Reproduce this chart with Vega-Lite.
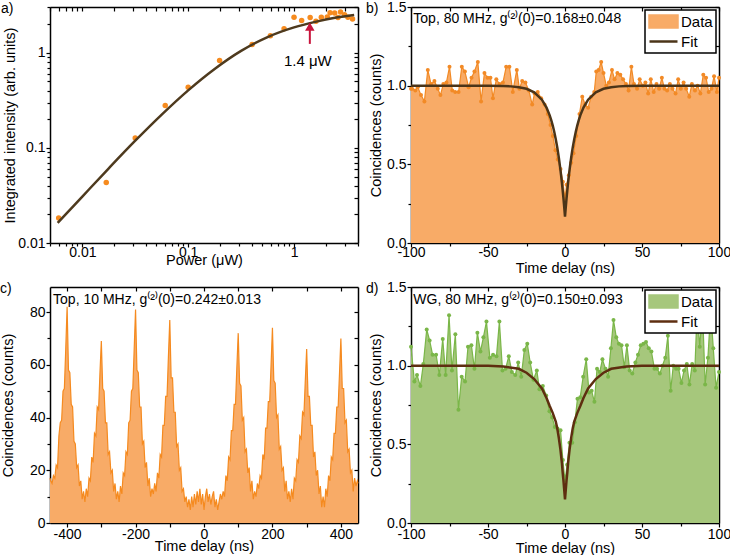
{
"$schema": "https://vega.github.io/schema/vega-lite/v6.json",
"padding": {"left": 0, "top": 0, "right": 0, "bottom": 0},
"config": {
 "font": "Liberation Sans",
 "view": {"stroke": null},
 "axis": {"grid": false, "domainColor": "black", "domainWidth": 1.5, "tickColor": "black", "tickWidth": 1.2, "labelColor": "black", "titleColor": "black", "labelFontSize": 14, "titleFontSize": 14.5, "titleFontWeight": "normal", "labelPadding": 1, "tickSize": 4, "labelFlush": false, "labelOverlap": false, "zindex": 1},
 "axisBottom": {"labelPadding": 0},
 "title": {"fontSize": 14, "fontWeight": "normal", "color": "black", "anchor": "start", "frame": "group", "baseline": "bottom"}
},
"datasets": {
 "a": [{"p":0.00598,"i":0.0183},{"p":0.01683,"i":0.0432},{"p":0.0316,"i":0.127},{"p":0.0607,"i":0.279},{"p":0.1,"i":0.435},{"p":0.198,"i":0.83},{"p":0.402,"i":1.22},{"p":0.598,"i":1.51},{"p":0.805,"i":1.79},{"p":1.0,"i":2.37},{"p":1.18,"i":2.19},{"p":1.42,"i":2.35},{"p":1.61,"i":2.15},{"p":1.81,"i":2.37},{"p":2.06,"i":2.38},{"p":2.19,"i":2.64},{"p":2.42,"i":2.62},{"p":2.6,"i":2.35},{"p":2.75,"i":2.68},{"p":3.0,"i":2.51},{"p":3.23,"i":2.37},{"p":3.57,"i":2.26}],
 "afit": [{"p":0.00585,"i":0.01626},{"p":0.01,"i":0.0308},{"p":0.01778,"i":0.061},{"p":0.03162,"i":0.1189},{"p":0.05623,"i":0.2239},{"p":0.1,"i":0.4027},{"p":0.1778,"i":0.676},{"p":0.3162,"i":1.047},{"p":0.5623,"i":1.462},{"p":1.0,"i":1.849},{"p":1.585,"i":2.113},{"p":2.512,"i":2.344},{"p":3.698,"i":2.5}],
 "b": [{"t":-100,"v":0.98},{"t":-99.3,"v":0.98},{"t":-97.2,"v":0.97},{"t":-95.6,"v":0.99},{"t":-93.5,"v":0.94},{"t":-91.3,"v":0.9},{"t":-89.1,"v":1.1},{"t":-87,"v":1.01},{"t":-84.8,"v":1.03},{"t":-82.6,"v":0.98},{"t":-80.9,"v":0.94},{"t":-79,"v":1.01},{"t":-77,"v":1.02},{"t":-75,"v":1.12},{"t":-73.2,"v":0.97},{"t":-71.3,"v":0.96},{"t":-69.1,"v":0.96},{"t":-67,"v":1.12},{"t":-65,"v":1.09},{"t":-62.6,"v":0.99},{"t":-60.7,"v":1.05},{"t":-58.8,"v":1.09},{"t":-56.6,"v":1.15},{"t":-54.5,"v":0.9},{"t":-52.3,"v":1.08},{"t":-50.3,"v":1.05},{"t":-48.4,"v":1.05},{"t":-46.8,"v":0.92},{"t":-44.6,"v":1.04},{"t":-42.5,"v":1.01},{"t":-40.3,"v":1.02},{"t":-38.2,"v":1.12},{"t":-36.1,"v":1.12},{"t":-33.9,"v":0.96},{"t":-31.3,"v":1.1},{"t":-29.6,"v":0.98},{"t":-27.8,"v":1.03},{"t":-25.7,"v":1.02},{"t":-23.5,"v":0.97},{"t":-21.3,"v":0.88},{"t":-19.8,"v":0.95},{"t":-17.7,"v":0.96},{"t":-15.5,"v":0.92},{"t":-13.3,"v":0.88},{"t":-11.2,"v":0.82},{"t":-9.4,"v":0.75},{"t":-7.9,"v":0.68},{"t":-6.2,"v":0.59},{"t":-4.7,"v":0.53},{"t":-2.9,"v":0.47},{"t":-1.4,"v":0.39},{"t":0,"v":0.28},{"t":1,"v":0.37},{"t":2.5,"v":0.43},{"t":4,"v":0.51},{"t":5.5,"v":0.57},{"t":7.3,"v":0.68},{"t":9.4,"v":0.82},{"t":11.2,"v":0.93},{"t":13.1,"v":0.88},{"t":15,"v":0.86},{"t":17,"v":0.93},{"t":19,"v":0.96},{"t":20.3,"v":1.09},{"t":21.8,"v":1.1},{"t":23.5,"v":1.15},{"t":25,"v":1.08},{"t":26.8,"v":1.0},{"t":28.5,"v":1.02},{"t":30.5,"v":1.1},{"t":32.2,"v":1.04},{"t":34,"v":1.08},{"t":35.9,"v":1.07},{"t":37.7,"v":1.04},{"t":39.6,"v":1.01},{"t":41.3,"v":0.97},{"t":43.1,"v":1.12},{"t":44.8,"v":1.01},{"t":46.8,"v":0.98},{"t":48.5,"v":1.04},{"t":50.5,"v":1.0},{"t":52.2,"v":1.02},{"t":54,"v":0.95},{"t":55.7,"v":1.04},{"t":57.6,"v":0.96},{"t":59.4,"v":1.01},{"t":61.1,"v":0.98},{"t":62.9,"v":1.05},{"t":64.6,"v":0.98},{"t":66.3,"v":0.97},{"t":68.1,"v":1.01},{"t":69.8,"v":0.98},{"t":71.8,"v":0.95},{"t":73.5,"v":1.04},{"t":75.2,"v":0.98},{"t":77,"v":1.02},{"t":78.7,"v":0.98},{"t":80.7,"v":0.93},{"t":82.4,"v":1.01},{"t":84.4,"v":0.97},{"t":86.1,"v":1.0},{"t":87.9,"v":0.95},{"t":89.8,"v":1.07},{"t":91.6,"v":1.05},{"t":93.3,"v":0.96},{"t":95.1,"v":0.98},{"t":96.8,"v":1.06},{"t":98.6,"v":0.96},{"t":100,"v":1.05}],
 "bfit": [{"t":-100,"v":1},{"t":-70,"v":1},{"t":-60,"v":0.9999},{"t":-50,"v":0.9995},{"t":-40,"v":0.998},{"t":-35,"v":0.9955},{"t":-30,"v":0.9905},{"t":-25,"v":0.98},{"t":-20,"v":0.958},{"t":-15,"v":0.911},{"t":-12,"v":0.861},{"t":-10,"v":0.813},{"t":-9,"v":0.783},{"t":-8,"v":0.748},{"t":-7,"v":0.707},{"t":-6,"v":0.66},{"t":-5,"v":0.606},{"t":-4,"v":0.542},{"t":-3,"v":0.468},{"t":-2.5,"v":0.427},{"t":-2,"v":0.383},{"t":-1.5,"v":0.335},{"t":-1,"v":0.283},{"t":-0.5,"v":0.228},{"t":0,"v":0.168},{"t":0.5,"v":0.228},{"t":1,"v":0.283},{"t":1.5,"v":0.335},{"t":2,"v":0.383},{"t":2.5,"v":0.427},{"t":3,"v":0.468},{"t":4,"v":0.542},{"t":5,"v":0.606},{"t":6,"v":0.66},{"t":7,"v":0.707},{"t":8,"v":0.748},{"t":9,"v":0.783},{"t":10,"v":0.813},{"t":12,"v":0.861},{"t":15,"v":0.911},{"t":20,"v":0.958},{"t":25,"v":0.98},{"t":30,"v":0.9905},{"t":35,"v":0.9955},{"t":40,"v":0.998},{"t":50,"v":0.9995},{"t":60,"v":0.9999},{"t":70,"v":1},{"t":100,"v":1}],
 "c": [{"t":-450,"v":17},{"t":-448,"v":16},{"t":-444,"v":15},{"t":-440,"v":18},{"t":-436,"v":17},{"t":-432,"v":22},{"t":-428,"v":21},{"t":-424,"v":33},{"t":-420,"v":38},{"t":-416,"v":39},{"t":-412,"v":50},{"t":-408,"v":51},{"t":-404,"v":66},{"t":-400,"v":82},{"t":-396,"v":58},{"t":-392,"v":57},{"t":-388,"v":45},{"t":-384,"v":44},{"t":-380,"v":31},{"t":-376,"v":30},{"t":-372,"v":21},{"t":-368,"v":22},{"t":-364,"v":14},{"t":-360,"v":16},{"t":-356,"v":9},{"t":-352,"v":12},{"t":-348,"v":8},{"t":-344,"v":13},{"t":-340,"v":10},{"t":-336,"v":17},{"t":-332,"v":16},{"t":-328,"v":25},{"t":-324,"v":23},{"t":-320,"v":34},{"t":-316,"v":33},{"t":-312,"v":44},{"t":-308,"v":43},{"t":-304,"v":57},{"t":-300,"v":69},{"t":-296,"v":51},{"t":-292,"v":50},{"t":-288,"v":38},{"t":-284,"v":38},{"t":-280,"v":26},{"t":-276,"v":27},{"t":-272,"v":19},{"t":-268,"v":20},{"t":-264,"v":12},{"t":-260,"v":15},{"t":-256,"v":9},{"t":-252,"v":12},{"t":-248,"v":8},{"t":-244,"v":14},{"t":-240,"v":11},{"t":-236,"v":19},{"t":-232,"v":18},{"t":-228,"v":27},{"t":-224,"v":26},{"t":-220,"v":38},{"t":-216,"v":39},{"t":-212,"v":50},{"t":-208,"v":51},{"t":-204,"v":66},{"t":-200,"v":81},{"t":-196,"v":58},{"t":-192,"v":57},{"t":-188,"v":44},{"t":-184,"v":44},{"t":-180,"v":30},{"t":-176,"v":31},{"t":-172,"v":21},{"t":-168,"v":23},{"t":-164,"v":14},{"t":-160,"v":17},{"t":-156,"v":10},{"t":-152,"v":13},{"t":-148,"v":11},{"t":-144,"v":15},{"t":-140,"v":12},{"t":-136,"v":19},{"t":-132,"v":17},{"t":-128,"v":26},{"t":-124,"v":25},{"t":-120,"v":37},{"t":-116,"v":37},{"t":-112,"v":48},{"t":-108,"v":48},{"t":-104,"v":63},{"t":-100,"v":77},{"t":-96,"v":55},{"t":-92,"v":55},{"t":-88,"v":42},{"t":-84,"v":42},{"t":-80,"v":29},{"t":-76,"v":30},{"t":-72,"v":20},{"t":-68,"v":21},{"t":-64,"v":12},{"t":-60,"v":13},{"t":-56,"v":8},{"t":-52,"v":10},{"t":-48,"v":6},{"t":-44,"v":9},{"t":-40,"v":5},{"t":-36,"v":10},{"t":-32,"v":6},{"t":-28,"v":11},{"t":-24,"v":7},{"t":-20,"v":12},{"t":-16,"v":8},{"t":-12,"v":13},{"t":-8,"v":7},{"t":-4,"v":11},{"t":0,"v":5},{"t":4,"v":10},{"t":8,"v":13},{"t":12,"v":8},{"t":16,"v":11},{"t":20,"v":7},{"t":24,"v":10},{"t":28,"v":12},{"t":32,"v":6},{"t":36,"v":9},{"t":40,"v":5},{"t":44,"v":8},{"t":48,"v":11},{"t":52,"v":9},{"t":56,"v":12},{"t":60,"v":10},{"t":64,"v":18},{"t":68,"v":16},{"t":72,"v":25},{"t":76,"v":24},{"t":80,"v":35},{"t":84,"v":35},{"t":88,"v":45},{"t":92,"v":45},{"t":96,"v":59},{"t":100,"v":72},{"t":104,"v":53},{"t":108,"v":52},{"t":112,"v":39},{"t":116,"v":40},{"t":120,"v":27},{"t":124,"v":28},{"t":128,"v":19},{"t":132,"v":21},{"t":136,"v":12},{"t":140,"v":16},{"t":144,"v":9},{"t":148,"v":12},{"t":152,"v":10},{"t":156,"v":15},{"t":160,"v":13},{"t":164,"v":18},{"t":168,"v":17},{"t":172,"v":26},{"t":176,"v":24},{"t":180,"v":36},{"t":184,"v":36},{"t":188,"v":46},{"t":192,"v":46},{"t":196,"v":60},{"t":200,"v":74},{"t":204,"v":54},{"t":208,"v":53},{"t":212,"v":40},{"t":216,"v":41},{"t":220,"v":28},{"t":224,"v":29},{"t":228,"v":20},{"t":232,"v":21},{"t":236,"v":12},{"t":240,"v":16},{"t":244,"v":9},{"t":248,"v":12},{"t":252,"v":8},{"t":256,"v":13},{"t":260,"v":9},{"t":264,"v":17},{"t":268,"v":16},{"t":272,"v":24},{"t":276,"v":23},{"t":280,"v":33},{"t":284,"v":32},{"t":288,"v":42},{"t":292,"v":41},{"t":296,"v":54},{"t":300,"v":66},{"t":304,"v":48},{"t":308,"v":48},{"t":312,"v":37},{"t":316,"v":37},{"t":320,"v":25},{"t":324,"v":27},{"t":328,"v":18},{"t":332,"v":20},{"t":336,"v":11},{"t":340,"v":14},{"t":344,"v":6},{"t":348,"v":10},{"t":352,"v":6},{"t":356,"v":13},{"t":360,"v":10},{"t":364,"v":18},{"t":368,"v":16},{"t":372,"v":25},{"t":376,"v":24},{"t":380,"v":34},{"t":384,"v":34},{"t":388,"v":44},{"t":392,"v":44},{"t":396,"v":57},{"t":400,"v":70},{"t":404,"v":51},{"t":408,"v":51},{"t":412,"v":38},{"t":416,"v":39},{"t":420,"v":27},{"t":424,"v":28},{"t":428,"v":19},{"t":432,"v":20},{"t":436,"v":12},{"t":440,"v":17},{"t":444,"v":14},{"t":448,"v":16},{"t":450,"v":15}],
 "d": [{"t":-100,"v":1.12},{"t":-97.8,"v":0.9},{"t":-96.1,"v":0.94},{"t":-93.9,"v":0.87},{"t":-92,"v":1.01},{"t":-89.8,"v":1.23},{"t":-87.9,"v":1.16},{"t":-86,"v":1.07},{"t":-83.7,"v":1.07},{"t":-81.6,"v":0.94},{"t":-79.4,"v":1.17},{"t":-77.5,"v":0.94},{"t":-75.3,"v":1.32},{"t":-73.4,"v":0.97},{"t":-71.2,"v":1.2},{"t":-69.2,"v":0.72},{"t":-67.1,"v":0.93},{"t":-64.9,"v":0.9},{"t":-63,"v":1.12},{"t":-60.8,"v":1.13},{"t":-58.8,"v":0.98},{"t":-56.9,"v":1.21},{"t":-54.9,"v":1.09},{"t":-53,"v":1.18},{"t":-51,"v":1.28},{"t":-48.8,"v":1.05},{"t":-46.7,"v":1.07},{"t":-44.5,"v":1.06},{"t":-42.6,"v":1.28},{"t":-40.6,"v":0.97},{"t":-38.6,"v":0.98},{"t":-36.5,"v":1.06},{"t":-34.5,"v":0.96},{"t":-32.3,"v":0.94},{"t":-30.4,"v":1.02},{"t":-28.4,"v":0.93},{"t":-26.4,"v":1.1},{"t":-24.5,"v":1.14},{"t":-22.6,"v":1.02},{"t":-20.5,"v":0.91},{"t":-18.3,"v":0.97},{"t":-16.6,"v":0.85},{"t":-14.4,"v":0.87},{"t":-12.2,"v":0.81},{"t":-10.1,"v":0.71},{"t":-8.3,"v":0.67},{"t":-6.6,"v":0.61},{"t":-4.9,"v":0.6},{"t":-2.9,"v":0.59},{"t":-1.4,"v":0.4},{"t":0,"v":0.27},{"t":1.4,"v":0.37},{"t":2.9,"v":0.51},{"t":4.7,"v":0.51},{"t":6.4,"v":0.64},{"t":8.1,"v":0.79},{"t":9.9,"v":0.8},{"t":11.8,"v":0.93},{"t":13.8,"v":1.04},{"t":15.6,"v":0.83},{"t":17.3,"v":0.84},{"t":19.1,"v":0.77},{"t":20.8,"v":0.98},{"t":22.6,"v":0.96},{"t":24.3,"v":1.04},{"t":26.3,"v":0.98},{"t":28,"v":0.93},{"t":29.8,"v":1.11},{"t":31.5,"v":1.29},{"t":33.3,"v":1.18},{"t":35,"v":1.14},{"t":36.7,"v":1.13},{"t":38.5,"v":0.99},{"t":40.2,"v":1.13},{"t":42,"v":0.97},{"t":43.7,"v":0.95},{"t":45.7,"v":1.02},{"t":47.4,"v":1.07},{"t":49.2,"v":1.13},{"t":50.9,"v":1.14},{"t":52.6,"v":1.15},{"t":54.4,"v":1.11},{"t":56.1,"v":1.09},{"t":58.1,"v":0.98},{"t":59.8,"v":0.98},{"t":61.6,"v":0.95},{"t":63.3,"v":1.0},{"t":65.1,"v":1.05},{"t":66.8,"v":1.19},{"t":68.6,"v":0.84},{"t":70.3,"v":1.0},{"t":72.1,"v":0.98},{"t":73.8,"v":0.98},{"t":75.6,"v":0.89},{"t":77.3,"v":0.97},{"t":79.1,"v":1.01},{"t":80.8,"v":0.88},{"t":82.6,"v":1.01},{"t":84.3,"v":0.97},{"t":85.8,"v":1.35},{"t":87.5,"v":1.12},{"t":89.3,"v":1.36},{"t":91,"v":0.88},{"t":92.8,"v":1.05},{"t":94.6,"v":1.35},{"t":96.3,"v":1.11},{"t":98.1,"v":0.86},{"t":100,"v":0.96}],
 "dfit": [{"t":-100,"v":1},{"t":-70,"v":1},{"t":-50,"v":0.9995},{"t":-40,"v":0.995},{"t":-30,"v":0.98},{"t":-25,"v":0.955},{"t":-20,"v":0.915},{"t":-15,"v":0.855},{"t":-12,"v":0.795},{"t":-10,"v":0.745},{"t":-8,"v":0.7},{"t":-6,"v":0.645},{"t":-5,"v":0.6},{"t":-4,"v":0.54},{"t":-3,"v":0.47},{"t":-2,"v":0.38},{"t":-1.5,"v":0.32},{"t":-1,"v":0.27},{"t":-0.5,"v":0.21},{"t":0,"v":0.15},{"t":0.5,"v":0.21},{"t":1,"v":0.27},{"t":1.5,"v":0.32},{"t":2,"v":0.38},{"t":3,"v":0.47},{"t":4,"v":0.54},{"t":5,"v":0.6},{"t":6,"v":0.645},{"t":8,"v":0.7},{"t":10,"v":0.745},{"t":12,"v":0.795},{"t":15,"v":0.855},{"t":20,"v":0.915},{"t":25,"v":0.955},{"t":30,"v":0.98},{"t":40,"v":0.995},{"t":50,"v":0.9995},{"t":70,"v":1},{"t":100,"v":1}]
},
"columns": 2,
"spacing": {"row": 44, "column": 53},
"bounds": "flush",
"resolve": {"scale": {"x": "independent", "y": "independent", "color": "independent"}, "legend": {"color": "independent"}},
"concat": [
 {
  "width": 308, "height": 236,
  "title": {"text": "a)", "offset": -10, "dx": -49},
  "layer": [
   {"data": {"name": "a"}, "mark": {"type": "circle", "size": 30, "color": "#F68B1F", "opacity": 1},
    "encoding": {
     "x": {"field": "p", "type": "quantitative", "scale": {"type": "log", "domain": [0.00495, 4.02], "nice": false}, "axis": {"orient": "bottom", "values": [0.01, 0.1, 1], "format": "~g", "labelPadding": -2, "title": "Power (μW)", "titleY": 10.5}},
     "y": {"field": "i", "type": "quantitative", "scale": {"type": "log", "domain": [0.01, 3.03], "nice": false}, "axis": {"orient": "left", "values": [0.01, 0.1, 1], "format": "~g", "title": "Integrated intensity (arb. units)", "titleX": -33, "titleBaseline": "bottom"}}}},
   {"data": {"name": "afit"}, "mark": {"type": "line", "color": "#4E3A1E", "strokeWidth": 2.5, "interpolate": "monotone"},
    "encoding": {
     "x": {"field": "p", "type": "quantitative", "axis": {"orient": "bottom", "values": [0.005,0.006,0.007,0.008,0.009,0.02,0.03,0.04,0.05,0.06,0.07,0.08,0.09,0.2,0.3,0.4,0.5,0.6,0.7,0.8,0.9,2,3,4], "labels": false, "domain": false, "tickSize": 3, "title": null}},
     "y": {"field": "i", "type": "quantitative", "axis": {"orient": "left", "values": [0.02,0.03,0.04,0.05,0.06,0.07,0.08,0.09,0.2,0.3,0.4,0.5,0.6,0.7,0.8,0.9,2,3], "labels": false, "domain": false, "tickSize": 3, "title": null}}}},
   {"data": {"name": "afit"}, "mark": {"type": "point", "opacity": 0},
    "encoding": {
     "x": {"field": "p", "type": "quantitative", "axis": {"orient": "top", "values": [0.005,0.006,0.007,0.008,0.009,0.01,0.02,0.03,0.04,0.05,0.06,0.07,0.08,0.09,0.1,0.2,0.3,0.4,0.5,0.6,0.7,0.8,0.9,1,2,3,4], "labels": false, "tickSize": -4, "title": null}},
     "y": {"field": "i", "type": "quantitative", "axis": {"orient": "right", "values": [0.01,0.02,0.03,0.04,0.05,0.06,0.07,0.08,0.09,0.1,0.2,0.3,0.4,0.5,0.6,0.7,0.8,0.9,1,2,3], "labels": false, "tickSize": -4, "title": null}}}},
   {"data": {"values": [{"label": "1.4 μW"}]}, "mark": {"type": "rule", "color": "#C8143C", "strokeWidth": 2},
    "encoding": {"x": {"datum": 1.41, "type": "quantitative", "axis": null}, "y": {"datum": 1.24, "type": "quantitative", "axis": null}, "y2": {"datum": 1.75}}},
   {"data": {"values": [{"label": "1.4 μW"}]}, "mark": {"type": "point", "shape": "triangle-up", "filled": true, "size": 90, "color": "#C8143C", "opacity": 1},
    "encoding": {"x": {"datum": 1.41, "type": "quantitative", "axis": null}, "y": {"datum": 1.88, "type": "quantitative", "axis": null}}},
   {"data": {"values": [{"label": "1.4 μW"}]}, "mark": {"type": "text", "fontSize": 15, "align": "center", "baseline": "middle", "color": "black"},
    "encoding": {"x": {"datum": 1.35, "type": "quantitative", "axis": null}, "y": {"datum": 0.82, "type": "quantitative", "axis": null}, "text": {"field": "label"}}}
  ],
  "resolve": {"axis": {"x": "independent", "y": "independent"}}
 },
 {
  "width": 308, "height": 236,
  "title": {"text": "b)", "offset": -16, "dx": -45},
  "layer": [
   {"data": {"name": "b"}, "mark": {"type": "area", "opacity": 1},
    "encoding": {
     "x": {"field": "t", "type": "quantitative", "scale": {"domain": [-100, 100], "nice": false}, "axis": {"orient": "bottom", "values": [-100, -50, 0, 50, 100], "labelExpr": "'' + datum.value", "labelPadding": -2, "title": "Time delay (ns)", "titleY": 18}},
     "y": {"field": "v", "type": "quantitative", "scale": {"domain": [0, 1.5], "nice": false}, "axis": {"orient": "left", "values": [0, 0.5, 1, 1.5], "format": ".1f", "title": "Coincidences (counts)", "titleX": -28, "titleBaseline": "bottom"}},
     "color": {"datum": "Data", "type": "nominal", "scale": {"domain": ["Data", "Fit"], "range": ["#F8AB67", "#4B3418"]},
      "legend": {"title": null, "orient": "top-right", "offset": 3, "padding": 3, "strokeColor": "black", "fillColor": "white", "labelFontSize": 15, "labelColor": "black", "symbolSize": 196, "labelOffset": 16, "rowPadding": -1,
       "encoding": {"symbols": {"shape": {"condition": {"test": "datum.value === 'Fit'", "value": "M-1,0H3"}, "value": "M-1,-0.85H3V0.85H-1Z"}, "fill": {"condition": {"test": "datum.value === 'Fit'", "value": "transparent"}, "value": "#F8AB67"}, "stroke": {"condition": {"test": "datum.value === 'Fit'", "value": "#4B3418"}, "value": "transparent"}, "strokeWidth": {"value": 2.5}, "opacity": {"value": 1}, "fillOpacity": {"value": 1}}, "legend": {"strokeWidth": {"value": 1.5}}}}}}},
   {"data": {"name": "b"}, "mark": {"type": "line", "color": "#F28A26", "strokeWidth": 1.2, "point": {"filled": true, "size": 16, "color": "#F28A26", "opacity": 1}},
    "encoding": {"x": {"field": "t", "type": "quantitative", "axis": null}, "y": {"field": "v", "type": "quantitative", "axis": null}}},
   {"data": {"name": "bfit"}, "mark": {"type": "line", "strokeWidth": 2.5},
    "encoding": {
     "x": {"field": "t", "type": "quantitative", "axis": {"orient": "bottom", "values": [-75, -25, 25, 75], "labels": false, "domain": false, "tickSize": 3, "title": null}},
     "y": {"field": "v", "type": "quantitative", "axis": {"orient": "left", "values": [0.25, 0.75, 1.25], "labels": false, "domain": false, "tickSize": 3, "title": null}},
     "color": {"datum": "Fit", "type": "nominal"}}},
   {"data": {"name": "bfit"}, "mark": {"type": "point", "opacity": 0},
    "encoding": {
     "x": {"field": "t", "type": "quantitative", "axis": {"orient": "top", "values": [-100, -75, -50, -25, 0, 25, 50, 75, 100], "labels": false, "tickSize": -4, "title": null}},
     "y": {"field": "v", "type": "quantitative", "axis": {"orient": "right", "values": [0, 0.25, 0.5, 0.75, 1, 1.25, 1.5], "labels": false, "tickSize": -4, "title": null}}}},
   {"data": {"values": [{"label": "Top, 80 MHz, g⁽²⁾(0)=0.168±0.048"}]}, "mark": {"type": "text", "fontSize": 14, "align": "left", "baseline": "alphabetic", "color": "black"},
    "encoding": {"x": {"datum": -98.5, "type": "quantitative", "axis": null}, "y": {"datum": 1.4, "type": "quantitative", "axis": null}, "text": {"field": "label"}}}
  ],
  "resolve": {"axis": {"x": "independent", "y": "independent"}}
 },
 {
  "width": 308, "height": 236,
  "title": {"text": "c)", "offset": -10, "dx": -50},
  "layer": [
   {"data": {"name": "c"}, "mark": {"type": "area", "opacity": 1, "color": "#F8AB67"},
    "encoding": {
     "x": {"field": "t", "type": "quantitative", "scale": {"domain": [-450, 450], "nice": false}, "axis": {"orient": "bottom", "values": [-400, -200, 0, 200, 400], "labelExpr": "'' + datum.value", "title": "Time delay (ns)", "titleY": 16}},
     "y": {"field": "v", "type": "quantitative", "scale": {"domain": [0, 89.5], "nice": false}, "axis": {"orient": "left", "values": [0, 20, 40, 60, 80], "title": "Coincidences (counts)", "titleX": -35, "titleBaseline": "bottom"}}}},
   {"data": {"name": "c"}, "mark": {"type": "line", "color": "#F58A1F", "strokeWidth": 1.2},
    "encoding": {
     "x": {"field": "t", "type": "quantitative", "axis": {"orient": "bottom", "values": [-300, -100, 100, 300], "labels": false, "domain": false, "tickSize": 4, "title": null}},
     "y": {"field": "v", "type": "quantitative", "axis": {"orient": "left", "values": [10, 30, 50, 70], "labels": false, "domain": false, "tickSize": 3, "title": null}}}},
   {"data": {"name": "c"}, "mark": {"type": "point", "opacity": 0},
    "encoding": {
     "x": {"field": "t", "type": "quantitative", "axis": {"orient": "top", "values": [-400, -300, -200, -100, 0, 100, 200, 300, 400], "labels": false, "tickSize": -4, "title": null}},
     "y": {"field": "v", "type": "quantitative", "axis": {"orient": "right", "values": [0, 10, 20, 30, 40, 50, 60, 70, 80], "labels": false, "tickSize": -4, "title": null}}}},
   {"data": {"values": [{"label": "Top, 10 MHz, g⁽²⁾(0)=0.242±0.013"}]}, "mark": {"type": "text", "fontSize": 14, "align": "left", "baseline": "alphabetic", "color": "black"},
    "encoding": {"x": {"datum": -441, "type": "quantitative", "axis": null}, "y": {"datum": 83, "type": "quantitative", "axis": null}, "text": {"field": "label"}}}
  ],
  "resolve": {"axis": {"x": "independent", "y": "independent"}}
 },
 {
  "width": 308, "height": 236,
  "title": {"text": "d)", "offset": -16, "dx": -45},
  "layer": [
   {"data": {"name": "d"}, "mark": {"type": "area", "opacity": 1},
    "encoding": {
     "x": {"field": "t", "type": "quantitative", "scale": {"domain": [-100, 100], "nice": false}, "axis": {"orient": "bottom", "values": [-100, -50, 0, 50, 100], "labelExpr": "'' + datum.value", "title": "Time delay (ns)", "titleY": 18}},
     "y": {"field": "v", "type": "quantitative", "scale": {"domain": [0, 1.5], "nice": false}, "axis": {"orient": "left", "values": [0, 0.5, 1, 1.5], "format": ".1f", "title": "Coincidences (counts)", "titleX": -28, "titleBaseline": "bottom"}},
     "color": {"datum": "Data", "type": "nominal", "scale": {"domain": ["Data", "Fit"], "range": ["#A6C77C", "#5E2E10"]},
      "legend": {"title": null, "orient": "top-right", "offset": 3, "padding": 3, "strokeColor": "black", "fillColor": "white", "labelFontSize": 15, "labelColor": "black", "symbolSize": 196, "labelOffset": 16, "rowPadding": -1,
       "encoding": {"symbols": {"shape": {"condition": {"test": "datum.value === 'Fit'", "value": "M-1,0H3"}, "value": "M-1,-0.85H3V0.85H-1Z"}, "fill": {"condition": {"test": "datum.value === 'Fit'", "value": "transparent"}, "value": "#A6C77C"}, "stroke": {"condition": {"test": "datum.value === 'Fit'", "value": "#5E2E10"}, "value": "transparent"}, "strokeWidth": {"value": 2.5}, "opacity": {"value": 1}, "fillOpacity": {"value": 1}}, "legend": {"strokeWidth": {"value": 1.5}}}}}}},
   {"data": {"name": "d"}, "mark": {"type": "line", "color": "#7AB648", "strokeWidth": 1.2, "point": {"filled": true, "size": 16, "color": "#7AB648", "opacity": 1}},
    "encoding": {"x": {"field": "t", "type": "quantitative", "axis": null}, "y": {"field": "v", "type": "quantitative", "axis": null}}},
   {"data": {"name": "dfit"}, "mark": {"type": "line", "strokeWidth": 2.5},
    "encoding": {
     "x": {"field": "t", "type": "quantitative", "axis": {"orient": "bottom", "values": [-75, -25, 25, 75], "labels": false, "domain": false, "tickSize": 3, "title": null}},
     "y": {"field": "v", "type": "quantitative", "axis": {"orient": "left", "values": [0.25, 0.75, 1.25], "labels": false, "domain": false, "tickSize": 3, "title": null}},
     "color": {"datum": "Fit", "type": "nominal"}}},
   {"data": {"name": "dfit"}, "mark": {"type": "point", "opacity": 0},
    "encoding": {
     "x": {"field": "t", "type": "quantitative", "axis": {"orient": "top", "values": [-100, -75, -50, -25, 0, 25, 50, 75, 100], "labels": false, "tickSize": -4, "title": null}},
     "y": {"field": "v", "type": "quantitative", "axis": {"orient": "right", "values": [0, 0.25, 0.5, 0.75, 1, 1.25, 1.5], "labels": false, "tickSize": -4, "title": null}}}},
   {"data": {"values": [{"label": "WG, 80 MHz, g⁽²⁾(0)=0.150±0.093"}]}, "mark": {"type": "text", "fontSize": 14, "align": "left", "baseline": "alphabetic", "color": "black"},
    "encoding": {"x": {"datum": -98.5, "type": "quantitative", "axis": null}, "y": {"datum": 1.39, "type": "quantitative", "axis": null}, "text": {"field": "label"}}}
  ],
  "resolve": {"axis": {"x": "independent", "y": "independent"}}
 }
]
}
